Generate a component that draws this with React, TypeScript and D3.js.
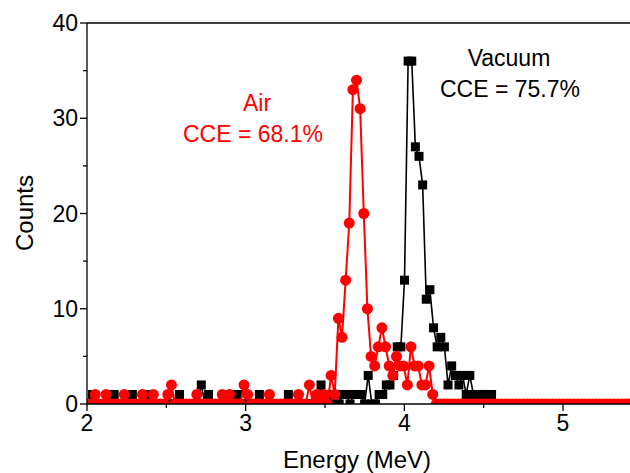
import React from 'react';
import * as d3 from 'd3';

// Channel calibration (MeV) for each spectrum
const airStart = 2.0063;
const vacuumStart = 2.0113;
const channelWidth = 0.02287;

// Counts per channel
const airCounts = [
  0, 0, 1, 0, 0, 1, 0, 0, 0, 0,
  1, 0, 0, 0, 0, 1, 0, 0, 1, 0,
  0, 0, 1, 2, 0, 0, 0, 0, 0, 0,
  1, 0, 0, 0, 0, 0, 0, 1, 0, 1,
  0, 0, 0, 2, 1, 0, 0, 0, 0, 0,
  1, 0, 0, 0, 0, 0, 0, 0, 1, 0,
  0, 2, 0, 1, 0, 1, 0, 3, 1, 9,
  7, 13, 19, 33, 34, 31, 20, 10, 5, 4,
  6, 8, 6, 4, 3, 5, 4, 4, 2, 6,
  4, 4, 2, 2, 4, 1, 0, 0, 0, 0,
  0, 0, 0, 0, 0, 0, 0, 0, 0, 0,
  0, 0, 0, 0, 0, 0, 0, 0, 0, 0,
  0, 0, 0, 0, 0, 0, 0, 0, 0, 0,
  0, 0, 0, 0, 0, 0, 0, 0, 0, 0,
  0, 0, 0, 0, 0, 0, 0, 0, 0, 0,
];

const vacuumCounts = [
  0, 1, 0, 0, 0, 0, 0, 1, 0, 0,
  0, 0, 1, 0, 0, 0, 1, 1, 0, 0,
  0, 0, 0, 0, 0, 1, 0, 0, 0, 0,
  0, 2, 0, 1, 0, 0, 0, 0, 0, 0,
  0, 1, 0, 0, 0, 0, 0, 1, 0, 0,
  0, 0, 0, 0, 0, 1, 0, 0, 0, 0,
  0, 0, 0, 0, 2, 0, 0, 1, 0, 0,
  1, 1, 0, 1, 1, 1, 0, 3, 0, 0,
  1, 1, 2, 2, 3, 6, 6, 13, 36, 36,
  27, 26, 23, 11, 12, 8, 6, 7, 6, 2,
  4, 3, 2, 3, 1, 3, 1, 1, 1, 1,
  1, 1, 0, 0, 0, 0, 0, 0, 0, 0,
  0, 0, 0, 0, 0, 0, 0, 0, 0, 0,
  0, 0, 0, 0, 0, 0, 0, 0, 0, 0,
  0, 0, 0, 0, 0, 0, 0, 0, 0, 0,
];

const xMajorTicks = [2, 3, 4, 5];
const xMinorTicks = [2.5, 3.5, 4.5];
const yMajorTicks = [0, 10, 20, 30, 40];
const yMinorTicks = [5, 15, 25, 35];

const xTitle = 'Energy (MeV)';
const yTitle = 'Counts';
const airLabel = ['Air', 'CCE = 68.1%'];
const vacuumLabel = ['Vacuum', 'CCE = 75.7%'];

const W = 630;
const H = 473;
const L = 87, R = 630, T = 23, B = 404;
const FONT = 'Arial, "Liberation Sans", Helvetica, sans-serif';

export default function App() {
  const x = d3.scaleLinear().domain([2, 2 + (R - L) / 158.67]).range([L, R]);
  const y = d3.scaleLinear().domain([0, 40]).range([B, T]);

  const air = airCounts.map((c, i) => ({ e: airStart + i * channelWidth, c }));
  const vac = vacuumCounts.map((c, i) => ({ e: vacuumStart + i * channelWidth, c }));

  const line = d3.line<{ e: number; c: number }>().x(d => x(d.e)).y(d => y(d.c));
  const sq = 9;
  const red = '#ff0000';

  return (
    <svg width={W} height={H} style={{ position: 'absolute', left: 0, top: 0, background: '#fff' }} fontFamily={FONT}>
      <defs>
        <clipPath id="plot">
          <rect x={L} y={T} width={R - L} height={B - T} />
        </clipPath>
      </defs>
      <rect x={0} y={0} width={W} height={H} fill="#fff" />
      <g clipPath="url(#plot)">
        <path d={line(vac) || ''} fill="none" stroke="#000" strokeWidth={1.6} />
        {vac.map((d, i) => (
          <rect key={'v' + i} x={x(d.e) - sq / 2} y={y(d.c) - sq / 2} width={sq} height={sq} fill="#000" />
        ))}
        <path d={line(air) || ''} fill="none" stroke={red} strokeWidth={2} />
        {air.map((d, i) => (
          <circle key={'a' + i} cx={x(d.e)} cy={y(d.c)} r={5.5} fill={red} />
        ))}
      </g>
      {/* axes */}
      <g stroke="#000" strokeWidth={1.3} fill="none">
        <line x1={L} y1={T} x2={L} y2={B} />
        <line x1={L} y1={B} x2={R} y2={B} />
        <line x1={L} y1={T} x2={R} y2={T} />
        {yMajorTicks.map(t => <line key={'ym' + t} x1={L - 7} x2={L} y1={y(t)} y2={y(t)} />)}
        {yMinorTicks.map(t => <line key={'yn' + t} x1={L - 4} x2={L} y1={y(t)} y2={y(t)} />)}
        {xMajorTicks.map(t => <line key={'xm' + t} x1={x(t)} x2={x(t)} y1={B} y2={B + 7} />)}
        {xMinorTicks.map(t => <line key={'xn' + t} x1={x(t)} x2={x(t)} y1={B} y2={B + 4} />)}
      </g>
      <g fontSize={23} fill="#000">
        {yMajorTicks.map(t => (
          <text key={'yl' + t} x={L - 9} y={y(t)} textAnchor="end" dominantBaseline="central">{t}</text>
        ))}
        {xMajorTicks.map(t => (
          <text key={'xl' + t} x={x(t)} y={431} textAnchor="middle">{t}</text>
        ))}
      </g>
      <text x={357} y={468} textAnchor="middle" fontSize={24}>{xTitle}</text>
      <text transform={`translate(33,${213}) rotate(-90)`} textAnchor="middle" fontSize={24}>{yTitle}</text>
      <g fontSize={23} textAnchor="middle">
        <text x={257} y={111} fill={red}>{airLabel[0]}</text>
        <text x={253} y={142} fill={red}>{airLabel[1]}</text>
        <text x={509} y={66} fill="#000">{vacuumLabel[0]}</text>
        <text x={510} y={97} fill="#000">{vacuumLabel[1]}</text>
      </g>
    </svg>
  );
}
